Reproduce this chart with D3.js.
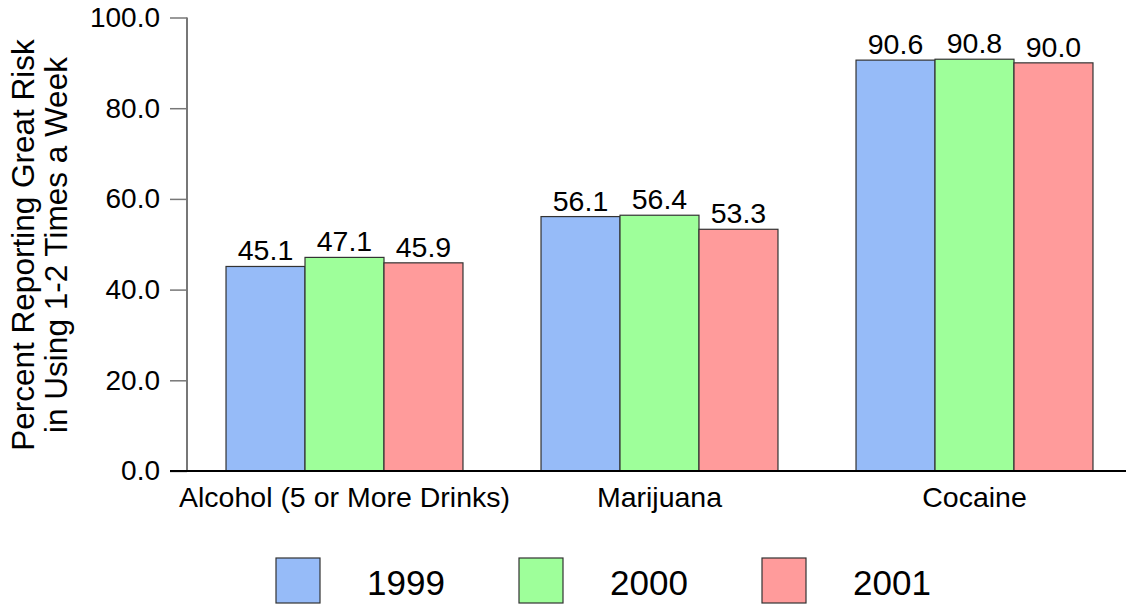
<!DOCTYPE html>
<html>
<head>
<meta charset="utf-8">
<script src="https://cdn.jsdelivr.net/npm/d3@7"></script>
<style>
  html, body { margin: 0; padding: 0; background: #fff; }
  svg { display: block; font-family: "Liberation Sans", Arial, sans-serif; }
</style>
</head>
<body>
<svg id="chart" width="1126" height="604"></svg>
<script>
// Survey data: percent reporting great risk, by substance and year
const categories = ["Alcohol (5 or More Drinks)", "Marijuana", "Cocaine"];
const years = ["1999", "2000", "2001"];
const values1999 = [45.1, 56.1, 90.6];
const values2000 = [47.1, 56.4, 90.8];
const values2001 = [45.9, 53.3, 90.0];
const yTicks = [0, 20, 40, 60, 80, 100];
const colors = ["#96BBF8", "#9EFF9A", "#FF9B9B"];

const seriesValues = [values1999, values2000, values2001];

const svg = d3.select("#chart");

const x0 = d3.scaleBand().domain(categories).range([187, 1132]).padding(0);
const x1 = d3.scaleBand().domain(years).range([0, x0.bandwidth()])
  .paddingInner(0).paddingOuter(0.494);
const y = d3.scaleLinear().domain([0, 100]).range([471, 17.5]);
const color = d3.scaleOrdinal().domain(years).range(colors);

// Y axis
const yAxis = d3.axisLeft(y).tickValues(yTicks).tickFormat(d3.format(".1f"))
  .tickSize(17).tickPadding(10);
const gy = svg.append("g").attr("transform", "translate(187,0)").call(yAxis);
gy.select(".domain").attr("stroke", "#777").attr("stroke-width", 2)
  .attr("d", `M0,${y(100)}V${y(0)}`);
gy.selectAll(".tick line").attr("stroke", "#777").attr("stroke-width", 1.5);
gy.selectAll(".tick text").attr("font-size", 28).attr("fill", "#000")
  .attr("font-family", "Liberation Sans, Arial, sans-serif");

// Bars
const rows = categories.map((c, i) => ({
  category: c,
  items: years.map((yr, j) => ({ year: yr, value: seriesValues[j][i] }))
}));

const groups = svg.append("g").selectAll("g").data(rows).join("g")
  .attr("transform", d => `translate(${x0(d.category)},0)`);

groups.selectAll("rect").data(d => d.items).join("rect")
  .attr("x", d => x1(d.year))
  .attr("y", d => y(d.value))
  .attr("width", x1.bandwidth())
  .attr("height", d => y(0) - y(d.value))
  .attr("fill", d => color(d.year))
  .attr("stroke", "#333")
  .attr("stroke-width", 1.2);

groups.selectAll("text").data(d => d.items).join("text")
  .attr("x", d => x1(d.year) + x1.bandwidth() / 2)
  .attr("y", d => y(d.value) - 6)
  .attr("text-anchor", "middle")
  .attr("font-size", 28.5)
  .text(d => d.value.toFixed(1));

// Baseline
svg.append("line")
  .attr("x1", 170).attr("x2", 1126)
  .attr("y1", y(0)).attr("y2", y(0))
  .attr("stroke", "#000").attr("stroke-width", 2);

// Category labels
svg.append("g").selectAll("text").data(categories).join("text")
  .attr("x", d => x0(d) + x0.bandwidth() / 2)
  .attr("y", 507)
  .attr("text-anchor", "middle")
  .attr("font-size", 28.5)
  .text(d => d);

// Y axis title
const title = svg.append("text")
  .attr("transform", "translate(0,245) rotate(-90)")
  .attr("text-anchor", "middle")
  .attr("font-size", 31.5);
title.append("tspan").attr("x", 0).attr("y", 34).text("Percent Reporting Great Risk");
title.append("tspan").attr("x", 0).attr("y", 67).text("in Using 1-2 Times a Week");

// Legend
const legend = svg.append("g").selectAll("g").data(years).join("g")
  .attr("transform", (d, i) => `translate(${276 + i * 243},558)`);
legend.append("rect")
  .attr("width", 44).attr("height", 45)
  .attr("fill", d => color(d))
  .attr("stroke", "#333").attr("stroke-width", 1.2);
legend.append("text")
  .attr("x", 91).attr("y", 37)
  .attr("font-size", 35)
  .text(d => d);
</script>
</body>
</html>
